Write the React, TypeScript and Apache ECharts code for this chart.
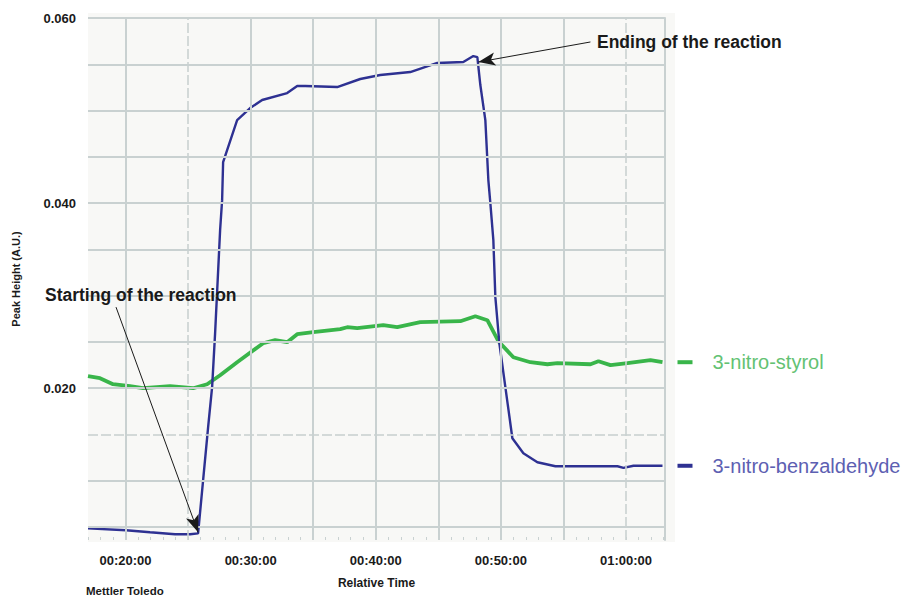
import React, { useEffect, useRef } from "react";
import * as echarts from "echarts";

// Relative time in minutes
const benzTime = [17.0, 20.04, 21.96, 23.96, 25.16, 25.8, 26.2, 26.6, 26.92, 27.16, 27.56, 27.72, 27.8, 28.92, 29.96, 30.92, 32.92, 33.72, 34.36, 36.92, 38.76, 40.36, 42.76, 44.92, 47.0, 47.8, 48.12, 48.36, 48.76, 49.0, 49.16, 49.4, 49.56, 49.88, 50.36, 50.92, 51.8, 52.92, 54.36, 59.32, 59.8, 60.6, 62.92];
const benzValues = [0.00486, 0.00465, 0.00443, 0.00422, 0.00422, 0.00432, 0.01005, 0.01578, 0.02011, 0.02595, 0.03708, 0.04032, 0.04443, 0.04897, 0.05027, 0.05114, 0.05189, 0.05265, 0.05265, 0.05254, 0.05341, 0.05384, 0.05416, 0.05514, 0.05524, 0.05589, 0.05578, 0.05276, 0.04897, 0.04249, 0.04, 0.036, 0.02984, 0.02486, 0.02011, 0.01459, 0.01297, 0.012, 0.01157, 0.01157, 0.0114, 0.01162, 0.01162];

const styrolTime = [17.0, 17.96, 19.0, 20.36, 21.4, 23.56, 25.4, 26.52, 27.56, 28.92, 31.0, 31.96, 32.92, 33.72, 35.0, 37.16, 37.72, 38.52, 40.6, 41.72, 43.56, 46.76, 47.96, 48.92, 49.8, 51.0, 52.36, 53.72, 54.52, 57.16, 57.8, 58.76, 60.12, 61.96, 62.92];
const styrolValues = [0.0213, 0.02108, 0.02043, 0.02022, 0.02, 0.02022, 0.02, 0.02043, 0.0214, 0.02281, 0.02486, 0.02519, 0.02497, 0.02584, 0.02605, 0.02638, 0.02659, 0.02649, 0.02681, 0.02659, 0.02714, 0.02724, 0.02778, 0.02735, 0.02508, 0.02335, 0.02281, 0.02259, 0.0227, 0.02259, 0.02292, 0.02249, 0.0227, 0.02303, 0.02281];

const xMin = 17;
const xMax = 63.12;
const yMin = 0.0036;
const yMax = 0.06;
const xLabelTicks = [20, 30, 40, 50, 60];
const xGridLines = [20, 25, 30, 35, 40, 45, 50, 55, 60];
const xDashedLines = [25, 60];
const minuteTicks = Array.from({ length: 47 }, (_, i) => 17 + i);
const yLabelTicks = [0.02, 0.04, 0.06];
const yGridLines = [0.005, 0.01, 0.015, 0.02, 0.025, 0.03, 0.035, 0.04, 0.045, 0.05, 0.055, 0.06];
const yDashedLines = [0.015];

const startArrow = { from: [19.24, 0.02876], to: [25.8, 0.00443] };
const endArrow = { from: [57.16, 0.05741], to: [48.2, 0.05524] };

const GRID = "#c9d1d1";
const BLUE = "#2e3192";
const GREEN = "#39b54a";

function fmtTime(m: number) {
  const h = Math.floor(m / 60);
  const mm = Math.round(m % 60);
  const p = (n: number) => String(n).padStart(2, "0");
  return `${p(h)}:${p(mm)}:00`;
}

export default function App() {
  const ref = useRef<HTMLDivElement>(null);
  useEffect(() => {
    if (!ref.current) return;
    const chart = echarts.init(ref.current, null, { renderer: "svg" });
    const font = "'Liberation Sans', Arial, Helvetica, sans-serif";
    const option: any = {
      animation: false,
      backgroundColor: "#ffffff",
      textStyle: { fontFamily: font },
      grid: {
        left: 88,
        right: 238,
        top: 18,
        bottom: 58,
        show: true,
        backgroundColor: "#f8f8f6",
        borderWidth: 0,
      },
      xAxis: {
        type: "value",
        min: xMin,
        max: xMax,
        name: "Relative Time",
        nameLocation: "middle",
        nameGap: 37,
        nameTextStyle: { fontSize: 12, fontWeight: "bold", color: "#1a1a1a", fontFamily: font },
        axisLine: { show: false },
        axisTick: {
          show: true,
          inside: true,
          length: 3,
          customValues: minuteTicks,
          lineStyle: { color: GRID, width: 1 },
        },
        axisLabel: {
          customValues: xLabelTicks,
          formatter: (v: number) => fmtTime(v),
          fontSize: 13,
          fontWeight: "bold",
          color: "#1a1a1a",
          margin: 14,
          fontFamily: font,
        },
        splitLine: { show: false },
      },
      yAxis: [
        {
          type: "value",
          min: yMin,
          max: yMax,
          name: "Peak Height (A.U.)",
          nameLocation: "middle",
          nameGap: 67,
          nameTextStyle: { fontSize: 11, fontWeight: "bold", color: "#1a1a1a", fontFamily: font },
          axisLine: { show: false },
          axisTick: { show: false },
          axisLabel: {
            customValues: yLabelTicks,
            formatter: (v: number) => v.toFixed(3),
            fontSize: 13,
            fontWeight: "bold",
            color: "#1a1a1a",
            margin: 12,
            fontFamily: font,
          },
          splitLine: { show: false },
        },
        {
          type: "value",
          min: yMin,
          max: yMax,
          position: "right",
          axisLine: { show: true, lineStyle: { color: GRID, width: 2 } },
          axisTick: { show: false },
          axisLabel: { show: false },
          splitLine: { show: false },
        },
      ],
      series: [
        {
          type: "line",
          data: [],
          z: 1,
          silent: true,
          markLine: {
            silent: true,
            precision: 10,
            symbol: ["none", "none"],
            label: { show: false },
            lineStyle: { color: GRID, width: 2, type: "solid" },
            data: [
              ...xGridLines.map((v) => ({
                xAxis: v,
                lineStyle: { color: GRID, width: 2, type: xDashedLines.includes(v) ? [10, 3] : "solid", opacity: xDashedLines.includes(v) ? 0.8 : 1 },
              })),
              ...yGridLines.map((v) => ({
                yAxis: v,
                lineStyle: { color: GRID, width: 2, type: yDashedLines.includes(v) ? [10, 3] : "solid", opacity: yDashedLines.includes(v) ? 0.8 : 1 },
              })),
            ],
          },
        },
        {
          name: "3-nitro-styrol",
          type: "line",
          data: styrolTime.map((t, i) => [t, styrolValues[i]]),
          showSymbol: false,
          symbol: "none",
          z: 3,
          lineStyle: { color: GREEN, width: 3.8 },
          itemStyle: { color: GREEN },
          endLabel: {
            show: true,
            distance: 15,
            formatter: "{d| }{t|3-nitro-styrol}",
            rich: {
              d: { width: 15, height: 4, backgroundColor: GREEN },
              t: { fontSize: 20, color: "#63c273", padding: [0, 0, 0, 20], fontFamily: font },
            },
          },
        },
        {
          name: "3-nitro-benzaldehyde",
          type: "line",
          data: benzTime.map((t, i) => [t, benzValues[i]]),
          showSymbol: false,
          symbol: "none",
          z: 4,
          lineStyle: { color: BLUE, width: 2.4 },
          itemStyle: { color: BLUE },
          endLabel: {
            show: true,
            distance: 15,
            formatter: "{d| }{t|3-nitro-benzaldehyde}",
            rich: {
              d: { width: 15, height: 4, backgroundColor: BLUE },
              t: { fontSize: 20, color: "#5d60b2", padding: [0, 0, 0, 20], fontFamily: font },
            },
          },
        },
        {
          type: "line",
          data: [],
          z: 5,
          silent: true,
          markLine: {
            silent: true,
            precision: 10,
            symbol: ["none", "arrow"],
            symbolSize: [10, 17],
            label: { show: false },
            lineStyle: { color: "#1a1a1a", width: 1, type: "solid" },
            data: [
              [{ coord: startArrow.from }, { coord: startArrow.to }],
              [{ coord: endArrow.from }, { coord: endArrow.to }],
            ],
          },
        },
      ],
      graphic: [
        {
          type: "rect",
          z: -10,
          shape: { x: 88, y: 13, width: 587, height: 529 },
          style: { fill: "#f8f8f6" },
          silent: true,
        },
        {
          type: "text",
          z: 100,
          left: 45,
          top: 286,
          style: { text: "Starting of the reaction", fontSize: 17.5, fontWeight: "bold", fill: "#1a1a1a", fontFamily: font },
        },
        {
          type: "text",
          z: 100,
          left: 597,
          top: 33,
          style: { text: "Ending of the reaction", fontSize: 17.5, fontWeight: "bold", fill: "#1a1a1a", fontFamily: font },
        },
        {
          type: "text",
          z: 100,
          left: 86,
          top: 585,
          style: { text: "Mettler Toledo", fontSize: 11.5, fontWeight: "bold", fill: "#1a1a1a", fontFamily: font },
        },
      ],
    };
    chart.setOption(option);
    return () => chart.dispose();
  }, []);
  return (
    <div
      ref={ref}
      style={{ position: "fixed", left: 0, top: 0, width: 903, height: 598 }}
    />
  );
}
